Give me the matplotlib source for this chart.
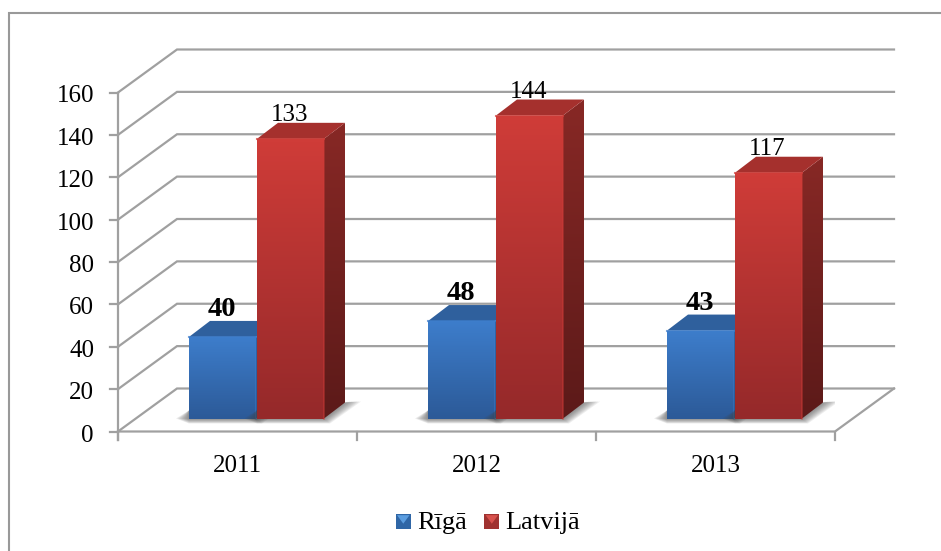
import matplotlib
matplotlib.use("Agg")
import matplotlib.pyplot as plt
import numpy as np
from matplotlib.colors import LinearSegmentedColormap
from matplotlib.legend_handler import HandlerBase
from matplotlib.patches import Patch, Polygon, Rectangle

plt.rcParams["font.family"] = ["Liberation Serif", "DejaVu Serif"]

years = ["2011", "2012", "2013"]
riga_labels = [40, 48, 43]
latvija_labels = [133, 144, 117]
# heights as drawn in the picture, the bars stand a bit lower than their labels
riga_heights = [38.5, 46, 41.5]
latvija_heights = [132, 143, 116]
y_ticks = [0, 20, 40, 60, 80, 100, 120, 140, 160]

W, H = 941, 551
LEFT, RIGHT, BOTTOM, TOP = 118, 835, 431.5, 92.5
GRAY = "#a0a0a0"

fig = plt.figure(figsize=(W / 100, H / 100), dpi=100)
fig.add_artist(Rectangle((9 / W, -0.02), 1.0, 1.02 - 12.5 / H, transform=fig.transFigure,
                         fill=False, ec="#999999", lw=1.5))
ax = fig.add_axes([LEFT / W, 1 - BOTTOM / H, (RIGHT - LEFT) / W, (BOTTOM - TOP) / H])
ax.axis("off")

# one category = 239 px, 160 units = 339 px
px_x = 3 / (RIGHT - LEFT)
px_y = 160 / (BOTTOM - TOP)
depth_x = 59 * px_x
depth_y = 43 * px_y


def fade(c_top, c_bottom):
    return LinearSegmentedColormap.from_list("f", [c_bottom, c_top])


def grad_poly(pts, c_top, c_bottom, zorder):
    # polygon filled with a vertical gradient
    poly = Polygon(pts, closed=True, fc="none", ec="none", zorder=zorder)
    ax.add_patch(poly)
    pts = np.array(pts)
    im = ax.imshow(np.linspace(1, 0, 64).reshape(-1, 1), cmap=fade(c_top, c_bottom), aspect="auto",
                   extent=[pts[:, 0].min(), pts[:, 0].max(), pts[:, 1].min(), pts[:, 1].max()],
                   zorder=zorder, interpolation="bilinear")
    im.set_clip_path(poly)


def bar3d(x0, width, value, front, side, top, zorder):
    fx = 19 * px_x
    fy = 13 * px_y
    dx = 21 * px_x
    dy = 16 * px_y
    xa, xb = x0 + fx, x0 + fx + width
    ya, yb = fy, fy + value
    # soft shadow on the floor
    for grow in np.linspace(1.0, 0.1, 9):
        g = grow * px_x
        h = grow * px_y
        ax.add_patch(Polygon([(xa - 13 * g, ya), (xa, ya + 8 * px_y), (xb + dx, ya + dy),
                              (xb + dx + 16 * g, ya + dy + 1 * px_y), (xb + 6 * g, ya - 5 * h),
                              (xa, ya - 5 * h)],
                             fc="#444444", ec="none", alpha=0.09, zorder=zorder - 0.5))
    grad_poly([(xa, ya), (xb, ya), (xb, yb), (xa, yb)], front[0], front[1], zorder + 0.2)
    grad_poly([(xb, ya), (xb + dx, ya + dy), (xb + dx, yb + dy), (xb, yb)], side[0], side[1], zorder + 0.1)
    ax.add_patch(Polygon([(xa, yb), (xb, yb), (xb + dx, yb + dy), (xa + dx, yb + dy)],
                         fc=top, ec="none", zorder=zorder + 0.1))
    ax.plot([xa, xb], [yb, yb], color=front[0], lw=1.5, alpha=0.7, zorder=zorder + 0.3)
    ax.plot([xb, xb], [ya, yb], color=front[0], lw=1.2, alpha=0.5, zorder=zorder + 0.3)
    return xa, yb


# walls and floor
for v in y_ticks:
    ax.plot([0, depth_x, 3 + depth_x], [v, v + depth_y, v + depth_y], color=GRAY, lw=1.6, zorder=1,
            clip_on=False, solid_joinstyle="miter")
    ax.plot([-8 * px_x, 0], [v, v], color=GRAY, lw=1.6, zorder=1, clip_on=False)
    ax.text(-24 * px_x, v - 10 * px_y, str(v), ha="right", va="baseline", fontsize=18, color="black")
ax.plot([0, 0], [-8 * px_y, 160], color=GRAY, lw=1.6, zorder=1, clip_on=False)
ax.plot([0, 3, 3 + depth_x], [0, 0, depth_y], color=GRAY, lw=1.6, zorder=1, clip_on=False)
for i in range(4):
    ax.plot([i, i], [-8 * px_y, 0], color=GRAY, lw=1.6, zorder=1, clip_on=False)

bar_w = 67 * px_x
gap = 1 * px_x
for i, year in enumerate(years):
    ax.text(i + 0.5, -40 * px_y, year, ha="center", va="baseline", fontsize=18)
    left = i + 0.5 - bar_w - gap / 2
    xa, yb = bar3d(left, bar_w, riga_heights[i], ("#3d7dcb", "#2c5a98"), ("#2a568f", "#1f4374"), "#2f609d", 3)
    ax.text(xa + bar_w / 2 - 1 * px_x, yb + 21 * px_y, str(riga_labels[i]), ha="center", va="baseline",
            fontsize=20.5, fontweight="bold", zorder=8)
    xa, yb = bar3d(left + bar_w + gap, bar_w, latvija_heights[i], ("#cf3c38", "#95292a"), ("#872825", "#5c1a19"),
                   "#a5302d", 4)
    ax.text(xa + bar_w / 2 - 1 * px_x, yb + 18 * px_y, str(latvija_labels[i]), ha="center", va="baseline",
            fontsize=18, zorder=8)

ax.set_xlim(0, 3)
ax.set_ylim(0, 160)


class SquareHandler(HandlerBase):
    # little square with a lighter wedge, as the legend keys of the bars
    def create_artists(self, legend, orig, xd, yd, width, height, fontsize, trans):
        side = 11
        x = (width - side) / 2 - xd
        y = (height - side) / 2 - yd - 1
        base = Rectangle((x, y), side, side, fc=orig.get_edgecolor(), ec="none", transform=trans)
        wedge = Polygon([(x + 1, y + side - 1), (x + side - 1, y + side - 1), (x + side / 2, y + side * 0.35)],
                        fc=orig.get_facecolor(), ec="none", transform=trans)
        return [base, wedge]


handles = [Patch(fc="#5b9de0", ec="#2f66a6"), Patch(fc="#d8524d", ec="#a03230")]
fig.legend(handles, ["Rīgā", "Latvijā"], handler_map={Patch: SquareHandler()}, loc="center",
           bbox_to_anchor=(487.5 / W, 1 - 522.5 / H), ncol=2, frameon=False, fontsize=19,
           handlelength=0.62, handletextpad=0.2, columnspacing=0.65)

fig.savefig("out.png", dpi=100)
